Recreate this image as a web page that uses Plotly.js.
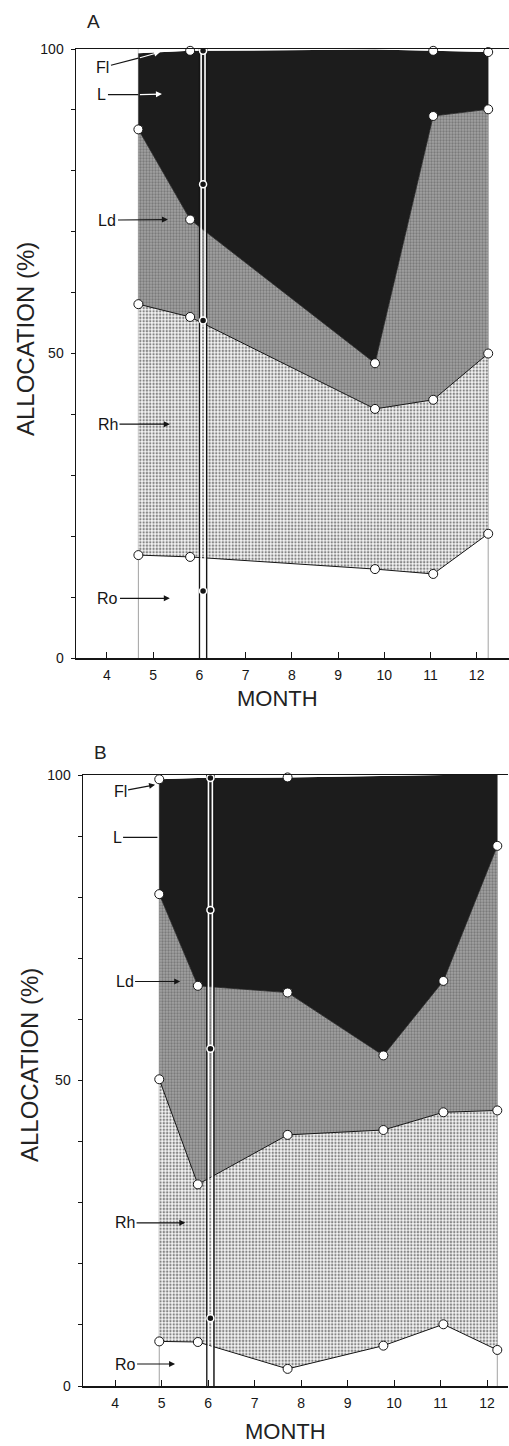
<!DOCTYPE html>
<html><head><meta charset="utf-8">
<script src="https://cdn.plot.ly/plotly-3.0.1.min.js"></script>
<style>html,body{margin:0;padding:0;background:#fff}#chart{width:509px;height:1446px}</style>
</head><body><div id="chart"></div>
<script>
// ---------- DATA (allocation %) ----------
// Panel A
const A_months = [4.68, 5.80, 9.80, 11.06, 12.25];
const A_Ro = [16.9, 16.6, 14.6, 13.8, 20.4];
const A_Rh = [41.2, 39.4, 26.3, 28.6, 29.6];
const A_Ld = [28.7, 16.0, 7.5, 46.6, 40.1];
const A_L  = [12.5, 27.7, 51.5, 10.7, 9.4];
const A_Fl = [0.7, 0.3, 0.1, 0.3, 0.5];
const A_flMeasured = [false, true, false, true, true];
const A_eventMonth = 6.08;
const A_eventValues = [99.7, 77.8, 55.4, 11.0];
// Panel B
const B_months = [4.95, 5.78, 7.71, 9.77, 11.06, 12.22];
const B_Ro = [7.3, 7.2, 2.8, 6.6, 10.1, 5.9];
const B_Rh = [42.9, 25.8, 38.3, 35.3, 34.7, 39.2];
const B_Ld = [30.3, 32.5, 23.3, 12.2, 21.5, 43.3];
const B_L  = [18.8, 34.0, 35.2, 45.8, 33.7, 11.6];
const B_Fl = [0.7, 0.5, 0.4, 0.1, 0.0, 0.0];
const B_flMeasured = [true, false, true, false, false, false];
const B_eventMonth = 6.05;
const B_eventValues = [99.5, 77.9, 55.2, 11.1];
// labels
const compNames = ['Ro', 'Rh', 'Ld', 'L', 'Fl'];
const xTickVals = [4, 5, 6, 7, 8, 9, 10, 11, 12];
const yTickVals = [0, 10, 20, 30, 40, 50, 60, 70, 80, 90, 100];
const yTickText = ['0', '', '', '', '', '50', '', '', '', '', '100'];
const panelLetters = ['A', 'B'];
const yTitle = 'ALLOCATION (%)';
const xTitle = 'MONTH';

// ---------- BUILD ----------
const W = 509, H = 1446, ML = 76;
const pX = px => (px - ML) / (W - ML);
const pY = py => 1 - py / H;
const FONT = 'Liberation Sans, Arial, sans-serif';
const INK = '#151515';

const traces = [];
const shapes = [];
const annotations = [];

function panel(months, comps, flMeasured, evMonth, evVals, xa, ya, grp) {
  const circ = {size: 9, color: '#ffffff', line: {color: INK, width: 1}};
  const base = {x: months, stackgroup: grp, xaxis: xa, yaxis: ya, cliponaxis: false, hoverinfo: 'skip', showlegend: false};
  traces.push(Object.assign({}, base, {y: comps[0], name: compNames[0], mode: 'lines+markers',
    line: {color: INK, width: 1}, fillcolor: 'rgba(0,0,0,0)', marker: circ}));
  traces.push(Object.assign({}, base, {y: comps[1], name: compNames[1], mode: 'lines+markers',
    line: {color: INK, width: 1}, fillcolor: '#f2f2f2',
    fillpattern: {shape: '.', fgcolor: '#858585', bgcolor: '#f4f4f4', size: 3.3, solidity: 0.4},
    marker: circ}));
  traces.push(Object.assign({}, base, {y: comps[2], name: compNames[2], mode: 'lines+markers',
    line: {color: '#222', width: 0.8}, fillcolor: '#989898',
    fillpattern: {shape: '.', fgcolor: '#7a7a7a', bgcolor: '#a2a2a2', size: 3, solidity: 0.45},
    marker: circ}));
  traces.push(Object.assign({}, base, {y: comps[3], name: compNames[3], mode: 'lines+markers',
    line: {color: '#1c1c1c', width: 0}, fillcolor: '#1c1c1c',
    marker: Object.assign({}, circ, {opacity: flMeasured.map(m => m ? 1 : 0)})}));
  traces.push(Object.assign({}, base, {y: comps[4], name: compNames[4], mode: 'lines',
    line: {color: '#ffffff', width: 0}, fillcolor: '#ffffff'}));

  // thin edge lines at first / last sampling dates
  [months[0], months[months.length - 1]].forEach(m => {
    shapes.push({type: 'line', xref: xa, yref: ya, x0: m, x1: m, y0: 0, y1: 100,
      line: {color: '#8a8a8a', width: 0.8}, layer: 'below'});
  });

  // double vertical event line
  [-0.075, 0.075].forEach(d => {
    traces.push({x: [evMonth + d, evMonth + d], y: [0, 100], mode: 'lines', xaxis: xa, yaxis: ya,
      line: {color: INK, width: 1.6}, hoverinfo: 'skip', showlegend: false, cliponaxis: false});
  });
  [-0.042, 0.042].forEach(d => {
    traces.push({x: [evMonth + d, evMonth + d], y: [0, 100], mode: 'lines', xaxis: xa, yaxis: ya,
      line: {color: '#ffffff', width: 1.6}, hoverinfo: 'skip', showlegend: false, cliponaxis: false});
  });
  traces.push({x: evVals.map(() => evMonth), y: evVals, mode: 'markers', xaxis: xa, yaxis: ya,
    marker: {size: 7, color: INK, line: {color: '#ffffff', width: 1.5}},
    hoverinfo: 'skip', showlegend: false, cliponaxis: false});
}

panel(A_months, [A_Ro, A_Rh, A_Ld, A_L, A_Fl], A_flMeasured, A_eventMonth, A_eventValues, 'x', 'y', 'A');
panel(B_months, [B_Ro, B_Rh, B_Ld, B_L, B_Fl], B_flMeasured, B_eventMonth, B_eventValues, 'x2', 'y2', 'B');

// component labels with arrows
function label(xa, ya, text, tx, ty, hx, hy, head, color) {
  annotations.push({xref: xa, yref: ya, axref: xa, ayref: ya, x: hx, y: hy, ax: tx, ay: ty,
    text: text, showarrow: true, arrowhead: head, arrowsize: 1, arrowwidth: 1.2,
    arrowcolor: color || INK, standoff: 0, startstandoff: 0,
    font: {family: FONT, size: 16, color: INK}});
}
// Panel A (Fl and L arrows turn white inside the dark area)
label('x', 'y', 'Fl', 3.913, 97.0, A_months[0], 98.5, 0);
label('x', 'y', '', A_months[0], 98.5, 5.15, 99.5, 2, '#ffffff');
label('x', 'y', 'L', 3.892, 92.5, A_months[0], 92.5, 0);
label('x', 'y', '', A_months[0], 92.5, 5.19, 92.6, 2, '#ffffff');
label('x', 'y', 'Ld', 4.011, 71.9, 5.32, 72.0, 2);
label('x', 'y', 'Rh', 4.022, 38.4, 5.36, 38.4, 2);
label('x', 'y', 'Ro', 4.022, 9.8, 5.36, 9.8, 2);
// Panel B
label('x2', 'y2', 'Fl', 4.108, 97.3, 4.86, 98.4, 2);
label('x2', 'y2', 'L', 4.043, 89.8, 4.91, 89.8, 0);
label('x2', 'y2', 'Ld', 4.204, 66.2, 5.40, 66.2, 2);
label('x2', 'y2', 'Rh', 4.215, 26.7, 5.51, 26.7, 2);
label('x2', 'y2', 'Ro', 4.215, 3.6, 5.29, 3.6, 2);

// titles
function txt(text, px, py, size, angle) {
  annotations.push({xref: 'paper', yref: 'paper', x: pX(px), y: pY(py), xanchor: 'center', yanchor: 'middle',
    text: text, showarrow: false, textangle: angle || 0, font: {family: FONT, size: size, color: '#222'}});
}
txt(panelLetters[0], 93, 21.5, 19);
txt(panelLetters[1], 100, 752, 19);
txt(yTitle, 25, 339, 24, -90);
txt(yTitle, 29, 1065, 24, -90);
txt(xTitle, 277, 698, 22);
txt(xTitle, 285, 1431, 22);

const xBase = {
  tickmode: 'array', tickvals: xTickVals, ticks: 'inside', ticklen: 6, tickwidth: 1, tickcolor: INK,
  showline: true, linecolor: INK, linewidth: 1.5, mirror: true, showgrid: false, zeroline: false,
  tickfont: {family: FONT, size: 14, color: INK}, ticklabelstandoff: 4, fixedrange: true
};
const yBase = {
  range: [0, 100], tickmode: 'array', tickvals: yTickVals, ticktext: yTickText,
  ticks: 'outside', ticklen: 4, tickwidth: 1, tickcolor: INK,
  showline: true, linecolor: INK, linewidth: 1.5, showgrid: false, zeroline: false,
  tickfont: {family: FONT, size: 14, color: INK}, ticklabelstandoff: 4, fixedrange: true
};

const layout = {
  width: W, height: H, margin: {l: ML, r: 0, t: 0, b: 0, pad: 0},
  paper_bgcolor: '#ffffff', plot_bgcolor: '#ffffff', showlegend: false,
  xaxis: Object.assign({}, xBase, {domain: [0, 1], range: [3.33, 12.70], anchor: 'y'}),
  yaxis: Object.assign({}, yBase, {domain: [pY(658), pY(49)], anchor: 'x'}),
  xaxis2: Object.assign({}, xBase, {domain: [pX(83), pX(508)], range: [3.31, 12.45], anchor: 'y2'}),
  yaxis2: Object.assign({}, yBase, {domain: [pY(1386), pY(775)], anchor: 'x2'}),
  shapes: shapes, annotations: annotations
};

Plotly.newPlot('chart', traces, layout, {staticPlot: true, displayModeBar: false});
</script>
</body></html>
